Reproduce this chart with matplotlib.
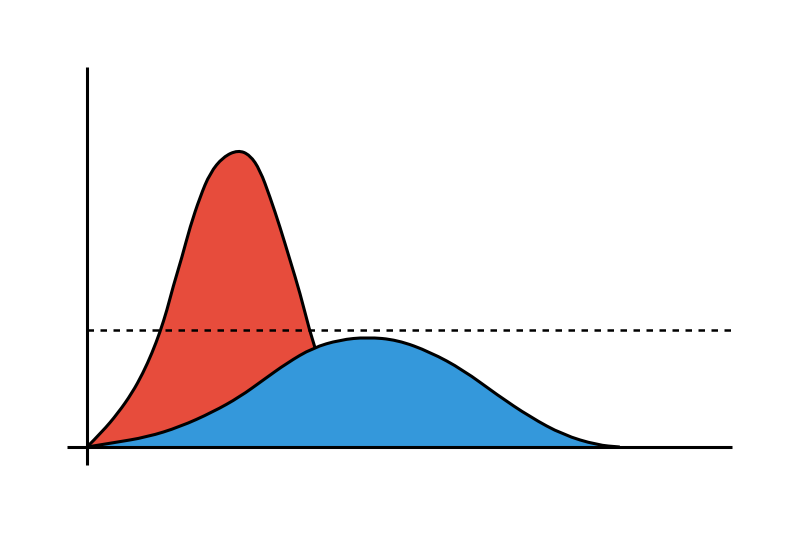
import matplotlib
matplotlib.use("Agg")
import matplotlib.pyplot as plt
from matplotlib.path import Path
from matplotlib.patches import PathPatch

# "flatten the curve": cases over time
# without measures (red) / with measures (blue)
red_t = [0, 2.33, 4.81, 6.98, 8.68, 10.08, 11.32, 12.40, 13.33, 14.73, 15.97, 17.52,
         19.07, 21.09, 23.41, 25.27, 26.82, 28.37, 29.92, 31.47, 33.02, 34.57, 35.35,
         36.90, 39.22, 41.55, 43.88]
red_cases = [0, 3.95, 8.95, 14.21, 19.47, 24.74, 30.26, 36.05, 42.11, 50.0, 57.89, 65.79,
             72.11, 76.32, 78.16, 76.84, 72.89, 65.79, 57.89, 49.21, 40.53, 30.26, 26.32,
             16.32, 5.79, 0.53, 0]

blue_t = [0, 4.0, 9.3, 14.4, 19.5, 23.7, 27.3, 31.0, 35.0, 39.2, 43.4, 48.1,
          53.2, 58.3, 63.6, 68.7, 73.8, 79.1, 82.6]
blue_cases = [0, 1.1, 2.6, 5.3, 9.2, 13.2, 17.6, 22.1, 26.1, 28.2, 28.9, 28.2,
              25.0, 20.3, 13.7, 7.9, 3.2, 0.5, 0]

capacity = 30.8  # health care system capacity


def smooth_path(xs, ys, close=False):
    # quadratic bezier through midpoints, read points act as control points
    verts = [(xs[0], ys[0])]
    codes = [Path.MOVETO]
    for i in range(1, len(xs) - 1):
        mx = (xs[i] + xs[i + 1]) / 2
        my = (ys[i] + ys[i + 1]) / 2
        verts += [(xs[i], ys[i]), (mx, my)]
        codes += [Path.CURVE3, Path.CURVE3]
    verts.append((xs[-1], ys[-1]))
    codes.append(Path.LINETO)
    if close:
        verts += [(xs[-1], 0), (xs[0], 0), (xs[0], ys[0])]
        codes += [Path.LINETO, Path.LINETO, Path.CLOSEPOLY]
    return Path(verts, codes)


fig = plt.figure(figsize=(8, 5.33), dpi=100)
ax = fig.add_axes([0, 0, 1, 1])
ax.set_xlim(-13.49, 110.54)
ax.set_ylim(-22.63, 117.63)
ax.axis("off")

# red curve
ax.add_patch(PathPatch(smooth_path(red_t, red_cases, close=True),
                       facecolor="#e74c3c", edgecolor="none", zorder=1))
ax.add_patch(PathPatch(smooth_path(red_t, red_cases), facecolor="none",
                       edgecolor="black", linewidth=2.2, zorder=2))

# blue curve
ax.add_patch(PathPatch(smooth_path(blue_t, blue_cases, close=True),
                       facecolor="#3498db", edgecolor="#4cc6f0", linewidth=1.0, zorder=3))
ax.add_patch(PathPatch(smooth_path(blue_t, blue_cases), facecolor="none",
                       edgecolor="black", linewidth=2.2, zorder=4))

# axes
ax.plot([-3.1, 100], [0, 0], color="black", linewidth=2.2, solid_capstyle="butt", zorder=5)
ax.plot([0, 0], [-4.7, 100], color="black", linewidth=2.2, solid_capstyle="butt", zorder=5)

# capacity line
ax.plot([0, 100.5], [capacity, capacity], color="black", linewidth=1.8,
        dashes=(2.6, 2.6), zorder=6)

fig.savefig("out.png", dpi=100)
